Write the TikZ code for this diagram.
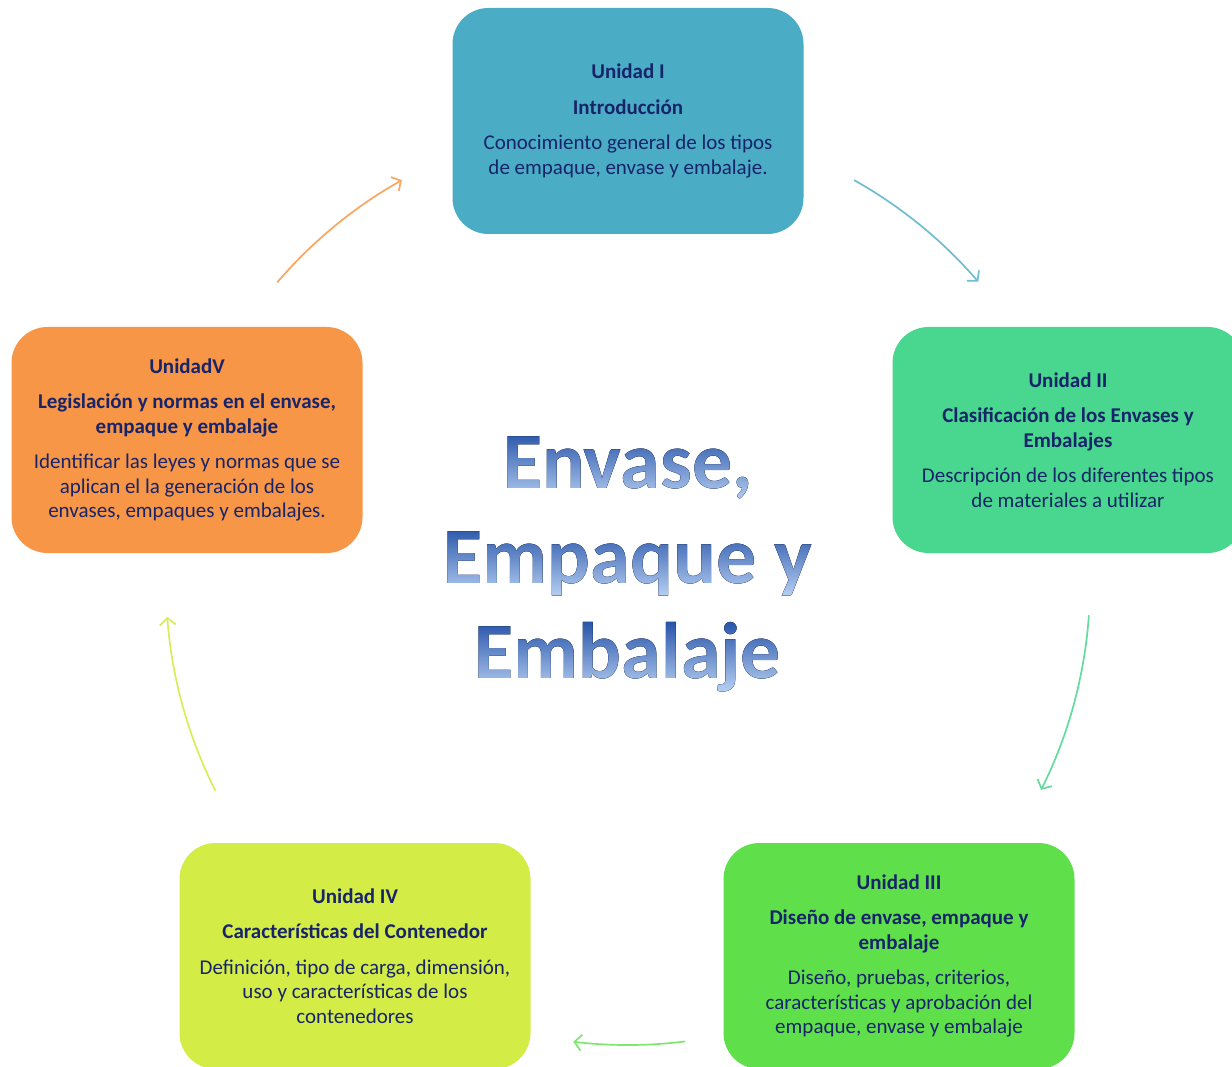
\documentclass[tikz,border=0pt]{standalone}
\usepackage{fontspec}
\setmainfont{Carlito}
\newfontfamily\bigfont{Carlito}
\usetikzlibrary{arrows.meta,fadings}

\definecolor{cUnitI}{HTML}{4BACC6}
\definecolor{cUnitII}{HTML}{49D68F}
\definecolor{cUnitIII}{HTML}{5FE04B}
\definecolor{cUnitIV}{HTML}{D4EC46}
\definecolor{cUnitV}{HTML}{F79646}
\definecolor{cInk}{HTML}{17246A}
\definecolor{cTitle}{HTML}{2A5AB4}
\definecolor{cTitleTop}{HTML}{1D4AA3}
\definecolor{cTitleBot}{HTML}{C4DCFA}

\tikzset{
  unit/.style={rounded corners=36pt, minimum width=351pt, minimum height=226pt,
    inner sep=0pt, text=cInk, align=center, font=\fontsize{21}{24.5}\selectfont},
  titleword/.style={inner sep=0pt, text height=62pt, text depth=20pt,
    font=\bigfont\bfseries\fontsize{80}{95}\selectfont},
  ring arrow/.style={line width=1.7pt, -{Straight Barb[length=7pt,width=16pt]}}
}

% letters of the centre title, used as masks for the shaded fill
\begin{tikzfadingfrompicture}[name=fadeEnvase]
  \node[titleword, text=transparent!0] {Envase,};
\end{tikzfadingfrompicture}
\begin{tikzfadingfrompicture}[name=fadeEmpaque]
  \node[titleword, text=transparent!0] {Empaque y};
\end{tikzfadingfrompicture}
\begin{tikzfadingfrompicture}[name=fadeEmbalaje]
  \node[titleword, text=transparent!0] {Embalaje};
\end{tikzfadingfrompicture}

\begin{document}
\begin{tikzpicture}[x=1pt, y=1pt]

\fill[white] (0,0) rectangle (1232,-1067);
\useasboundingbox (0,0) rectangle (1232,-1067);

% Radius of the ring the units sit on
\def\R{462}
\coordinate (ring) at (628,-583);

% The five units
\node[unit, fill=cUnitI] (u1) at (628,-121)
  {{\bfseries Unidad I}\\[11pt]
   {\bfseries Introducción}\\[11pt]
   Conocimiento general de los tipos\\
   de empaque, envase y embalaje.};

\node[unit, fill=cUnitII] (u2) at (1068,-440)
  {{\bfseries Unidad II}\\[11pt]
   {\bfseries Clasificación de los Envases y}\\
   {\bfseries Embalajes}\\[11pt]
   Descripción de los diferentes tipos\\
   de materiales a utilizar};

\node[unit, fill=cUnitIII] (u3) at (899,-956)
  {{\bfseries Unidad III}\\[11pt]
   {\bfseries Diseño de envase, empaque y}\\
   {\bfseries embalaje}\\[11pt]
   Diseño, pruebas, criterios,\\
   características y aprobación del\\
   empaque, envase y embalaje};

\node[unit, fill=cUnitIV] (u4) at (355,-956)
  {{\bfseries Unidad IV}\\[11pt]
   {\bfseries Características del Contenedor}\\[11pt]
   Definición, tipo de carga, dimensión,\\
   uso y características de los\\
   contenedores};

\node[unit, fill=cUnitV] (u5) at (187,-440)
  {{\bfseries UnidadV}\\[11pt]
   {\bfseries Legislación y normas en el envase,}\\
   {\bfseries empaque y embalaje}\\[11pt]
   Identificar las leyes y normas que se\\
   aplican el la generación de los\\
   envases, empaques y embalajes.};

% Arrows between the units, pieces of the ring
\foreach \a/\b/\c in {139.4/119.3/cUnitV!85, 60.7/40.7/cUnitI!80, -4/-26.6/cUnitII!85,
                      -82.9/-96.8/cUnitIII!80, 206.7/184.2/cUnitIV!90}
  \draw[ring arrow, \c] ([shift={(\a:\R)}]ring) arc[start angle=\a, end angle=\b, radius=\R];

% Centre title
\node[titleword, text=cTitle] (t1) at (628,-467) {Envase,};
\node[titleword, text=cTitle] (t2) at (628,-562) {Empaque y};
\node[titleword, text=cTitle] (t3) at (628,-657) {Embalaje};

% shaded letters on top
\fill[path fading=fadeEnvase, fit fading=false, fading transform={xshift=628pt, yshift=-467pt},
      top color=cTitleTop, bottom color=cTitleBot] (428,-426) rectangle (828,-508);
\fill[path fading=fadeEmpaque, fit fading=false, fading transform={xshift=628pt, yshift=-562pt},
      top color=cTitleTop, bottom color=cTitleBot] (428,-521) rectangle (828,-603);
\fill[path fading=fadeEmbalaje, fit fading=false, fading transform={xshift=628pt, yshift=-657pt},
      top color=cTitleTop, bottom color=cTitleBot] (428,-616) rectangle (828,-698);

\end{tikzpicture}
\end{document}
